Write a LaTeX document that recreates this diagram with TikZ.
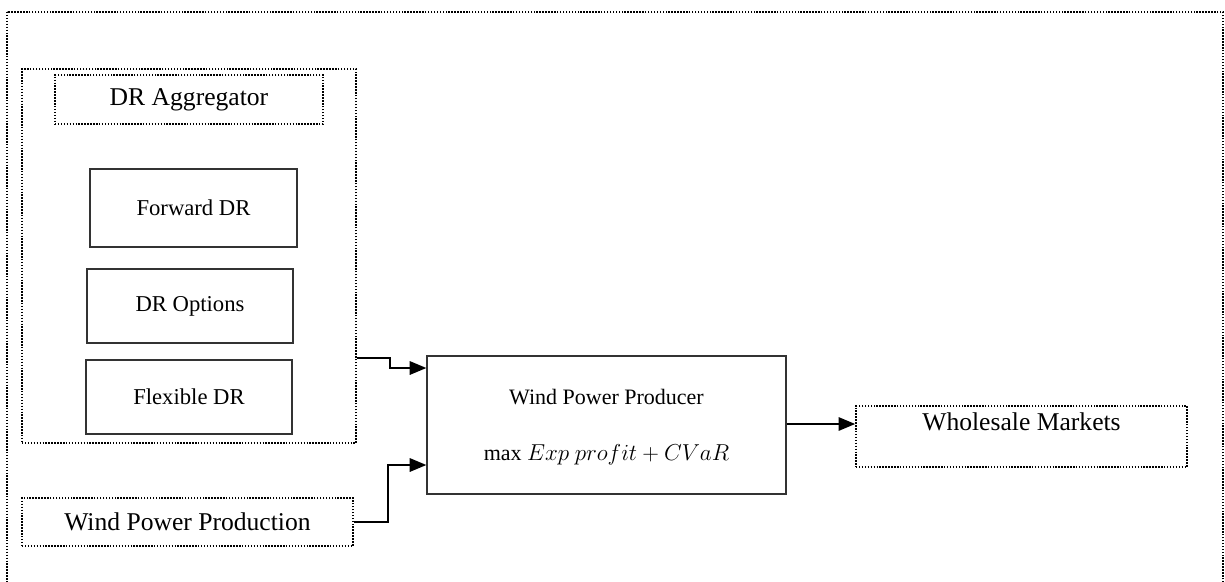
\documentclass[tikz,border=0pt]{standalone}
\usepackage{fontspec}
\setmainfont{Liberation Serif}
\usetikzlibrary{arrows.meta}
\tikzset{
  dotbox/.style={draw=black, line width=1.2pt, dash pattern=on 1.1pt off 1.1pt, inner sep=0pt},
  solidbox/.style={draw=black!80, line width=0.9pt, inner sep=0pt},
  bigtxt/.style={font=\fontsize{19.2pt}{23pt}\selectfont},
  smalltxt/.style={font=\fontsize{17pt}{20pt}\selectfont},
  conn/.style={line width=1.6pt, -{Triangle[length=12.5pt,width=10pt]}},
}
\begin{document}
\begin{tikzpicture}[x=0.75pt,y=-0.75pt]
\useasboundingbox (0,0) rectangle (1225,582);
\clip (0,0) rectangle (1225,582);
\draw[dotbox] (7,12) rectangle (1223,600);
\node[dotbox, minimum width=250.5pt, minimum height=280.5pt] (agg) at (189,256) {};
\node[dotbox, minimum width=201pt, minimum height=36.75pt, bigtxt] (agglabel) at (189,99.5) {DR Aggregator};
\node[solidbox, minimum width=155.25pt, minimum height=58.5pt, smalltxt] (fwd) at (193.5,208) {Forward DR};
\node[solidbox, minimum width=154.5pt, minimum height=55.5pt, smalltxt] (opt) at (190,306) {DR Options};
\node[solidbox, minimum width=154.5pt, minimum height=55.5pt, smalltxt] (flex) at (189,397) {Flexible DR};
\node[solidbox, minimum width=269.25pt, minimum height=103.5pt] (wpp) at (606.5,425) {};
\node[font=\fontsize{16.5pt}{20pt}\selectfont] (wpptitle) at (606.5,397) {Wind Power Producer};
\node[font=\fontsize{16.5pt}{20pt}\selectfont] (wppobj) at (606.5,455) {max $Exp\ profit+CVaR$};
\node[dotbox, minimum width=248.25pt, minimum height=36pt, bigtxt] (prod) at (187.5,522) {Wind Power Production};
\node[dotbox, minimum width=248.25pt, minimum height=45.75pt] (whole) at (1021.5,436.5) {};
\node[bigtxt] (wholetxt) at (1021.5,422) {Wholesale Markets};
\coordinate (a1) at (390,358);
\coordinate (a2) at (390,368);
\draw[conn] (agg.east |- a1) -- (a1) -- (a2) -- (wpp.west |- a2);
\coordinate (b1) at (388,522);
\coordinate (b2) at (388,465);
\draw[conn] (prod.east) -- (b1) -- (b2) -- (wpp.west |- b2);
\draw[conn] (wpp.east |- 0,424) -- (whole.west |- 0,424);
\end{tikzpicture}
\end{document}
